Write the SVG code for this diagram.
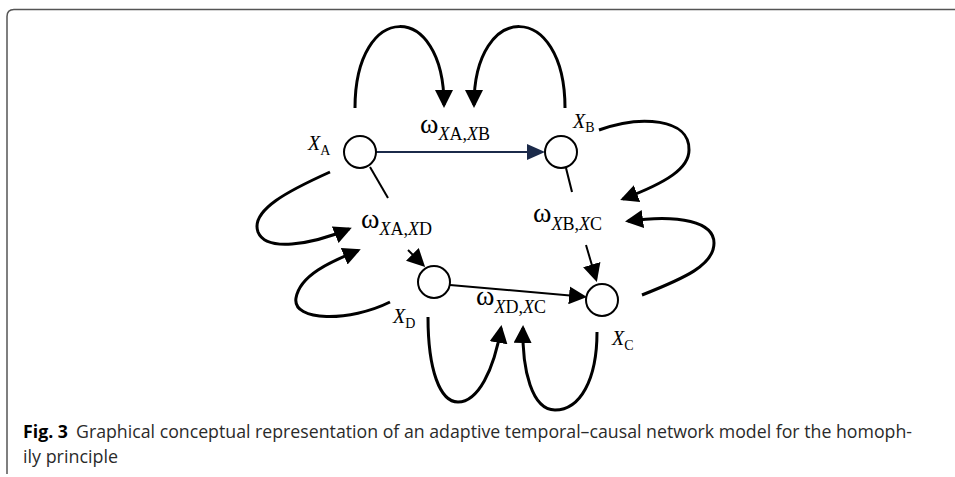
<svg xmlns="http://www.w3.org/2000/svg" width="955" height="477" viewBox="0 0 955 477">
<style>
.node{fill:#fff;stroke:#000;stroke-width:2}
.loop{fill:none;stroke:#000;stroke-width:3}
.edge{fill:none;stroke:#000;stroke-width:2}
.lbl{font-family:"Liberation Serif","Times New Roman",serif;fill:#000}
.w{font-size:28px}
.sub{font-size:18px}
.nx{font-size:20px;font-style:italic}
.ns{font-size:14px;font-style:normal}
.it{font-style:italic}
.cap{font-family:"Open Sans","Noto Sans","Liberation Sans",sans-serif;font-size:17.5px;fill:#2a2a2a}
</style>
<defs>
<marker id="ah" markerUnits="userSpaceOnUse" markerWidth="18" markerHeight="18" refX="15" refY="9" orient="auto" viewBox="0 0 18 18">
<path d="M0,0 L18,9 L0,18 z" fill="#000"/>
</marker>
<marker id="ahn" markerUnits="userSpaceOnUse" markerWidth="18" markerHeight="16" refX="15" refY="8" orient="auto" viewBox="0 0 18 16">
<path d="M0,0 L18,8 L0,16 z" fill="#1b2a4a"/>
</marker>
</defs>
<path d="M955,9.5 L14,9.5 Q7,9.5 7,16.5 L7,474" fill="none" stroke="#555" stroke-width="1.5"/>
<g id="connectors">
<path class="loop" d="M355,108 C355,0 444,0 444,105" marker-end="url(#ah)"/>
<path class="loop" d="M565,108 C565,0 474,0 474,105" marker-end="url(#ah)"/>
<path class="loop" d="M599,130 C640,115 690,118 689,150 C689,168 668,182 623,199" marker-end="url(#ah)"/>
<path class="loop" d="M642,295 C685,278 714,265 714,243 C714,222 680,214 628,221" marker-end="url(#ah)"/>
<path class="loop" d="M330,172 C290,190 250,210 258,232 C266,252 310,245 349,229" marker-end="url(#ah)"/>
<path class="loop" d="M390,302 C350,322 292,322 296,298 C300,275 330,262 358,250.5" marker-end="url(#ah)"/>
<path class="loop" d="M428,317 C428,370 440,402 458,402 C478,402 494,370 501,328" marker-end="url(#ah)"/>
<path class="loop" d="M597,332 C597,380 580,410 555,410 C532,410 522,370 523,328" marker-end="url(#ah)"/>
<path d="M376,152 L542,152" fill="none" stroke="#1b2a4a" stroke-width="2" marker-end="url(#ahn)"/>
<path class="edge" d="M450,285 L584,296.7" marker-end="url(#ah)"/>
<path class="edge" d="M370,167 L388,198"/>
<path class="edge" d="M566,168 L572,192"/>
<path class="edge" d="M586,245 L596,279" marker-end="url(#ah)"/>
<path class="edge" d="M408,250 L423,265" marker-end="url(#ah)"/>
</g>
<g id="XA">
<circle class="node" cx="360" cy="152" r="16"/>
<text class="lbl nx" x="308" y="150">X<tspan class="ns" dy="5">A</tspan></text>
</g>
<g id="XB">
<circle class="node" cx="561" cy="152" r="16"/>
<text class="lbl nx" x="573" y="128">X<tspan class="ns" dy="4">B</tspan></text>
</g>
<g id="XD">
<circle class="node" cx="434" cy="282" r="16"/>
<text class="lbl nx" x="393" y="323">X<tspan class="ns" dy="5">D</tspan></text>
</g>
<g id="XC">
<circle class="node" cx="602" cy="300" r="16"/>
<text class="lbl nx" x="612" y="345">X<tspan class="ns" dy="5">C</tspan></text>
</g>
<g id="wXAXB">
<text class="lbl w" x="420" y="133">ω<tspan class="sub it" dy="7">X</tspan><tspan class="sub">A,</tspan><tspan class="sub it">X</tspan><tspan class="sub">B</tspan></text>
</g>
<g id="wXAXD">
<text class="lbl w" x="361" y="228">ω<tspan class="sub it" dy="7">X</tspan><tspan class="sub">A,</tspan><tspan class="sub it">X</tspan><tspan class="sub">D</tspan></text>
</g>
<g id="wXBXC">
<text class="lbl w" x="533" y="222">ω<tspan class="sub it" dy="8">X</tspan><tspan class="sub">B,</tspan><tspan class="sub it">X</tspan><tspan class="sub">C</tspan></text>
</g>
<g id="wXDXC">
<text class="lbl w" x="476" y="305">ω<tspan class="sub it" dy="8">X</tspan><tspan class="sub">D,</tspan><tspan class="sub it">X</tspan><tspan class="sub">C</tspan></text>
</g>
<g id="caption">
<text class="cap" x="23" y="438" textLength="889" lengthAdjust="spacingAndGlyphs"><tspan font-weight="bold" fill="#000">Fig. 3</tspan><tspan dx="8">Graphical conceptual representation of an adaptive temporal–causal network model for the homoph-</tspan></text>
<text class="cap" x="23" y="463" textLength="95" lengthAdjust="spacingAndGlyphs">ily principle</text>
</g>
</svg>
